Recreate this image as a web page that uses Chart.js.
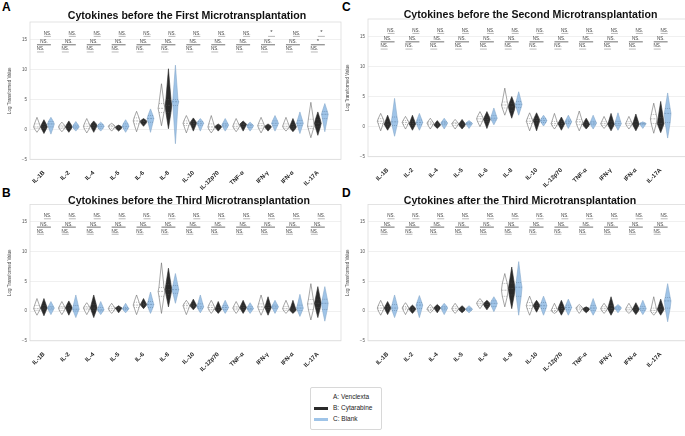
<!DOCTYPE html>
<html>
<head>
<meta charset="utf-8">
<script src="https://cdn.jsdelivr.net/npm/chart.js@4.4.1/dist/chart.umd.min.js"></script>
<style>
  html,body{margin:0;padding:0;background:#fff;overflow:hidden;width:685px;height:436px;position:relative;font-family:"Liberation Sans",Arial,sans-serif;}
  canvas{position:absolute;}
  .tag{position:absolute;font-weight:bold;font-size:12px;line-height:12px;color:#000;}
  #legend{position:absolute;left:310px;top:387px;width:72px;height:43px;border:1px solid #d8d8d8;border-radius:2px;box-sizing:border-box;padding:3px 0 0 3px;font-size:6.5px;line-height:11px;color:#222;}
  .sw{display:inline-block;width:14px;height:2.5px;vertical-align:middle;margin-right:5px;}
</style>
</head>
<body>
<div class="tag" style="left:2px;top:1px">A</div>
<div class="tag" style="left:342px;top:1px">C</div>
<div class="tag" style="left:2px;top:187px">B</div>
<div class="tag" style="left:342px;top:187px">D</div>

<canvas id="chartA" width="374" height="190" style="left:0px;top:0px"></canvas>
<canvas id="chartB" width="378" height="190" style="left:0px;top:185px"></canvas>
<canvas id="chartC" width="385" height="190" style="left:338px;top:0px"></canvas>
<canvas id="chartD" width="364" height="190" style="left:338px;top:185px"></canvas>

<div id="legend">
  <div><span class="sw" style="background:#fff"></span>A: Venclexta</div>
  <div><span class="sw" style="background:#2a2a2a"></span>B: Cytarabine</div>
  <div><span class="sw" style="background:#9fc4e8"></span>C: Blank</div>
</div>

<script>
const cats = ['IL-1B','IL-2','IL-4','IL-5','IL-6','IL-8','IL-10','IL-12p70','TNF-α','IFN-γ','IFN-α','IL-17A'];
const groups = ['A: Venclexta','B: Cytarabine','C: Blank'];
const yTicks = [-5, 0, 5, 10, 15];
const bracketLevels = [15.5, 14.1, 12.9];

// each violin: [min, q1, median, q3, max]
// A - before first microtransplantation
const aVen = [[-0.5,0.1,0.4,0.9,2.0],[-0.4,0.1,0.4,0.7,1.2],[-0.6,0.1,0.5,0.9,1.8],[-0.3,0.2,0.5,0.7,1.0],[-0.4,0.9,1.4,1.9,3.0],[0.6,2.8,3.5,4.3,7.6],
  [-0.6,0.6,1.0,1.4,2.3],[-0.6,0.0,0.4,0.9,2.3],[-0.4,0.2,0.5,0.9,1.8],[-0.6,0.2,0.6,1.0,2.0],[-0.3,0.2,0.5,0.9,2.0],[-1.4,0.1,0.5,1.7,4.5]];
const aCyt = [[-0.7,0.1,0.4,0.8,1.6],[-0.5,0.1,0.4,0.7,1.4],[-0.5,0.3,0.6,0.9,1.4],[-0.3,0.1,0.3,0.5,0.7],[0.5,1.0,1.3,1.5,1.8],[0.1,2.8,4.0,5.0,10.1],
  [-0.3,0.7,1.0,1.3,1.9],[-0.3,0.2,0.4,0.6,0.9],[-0.3,0.5,0.8,1.0,1.4],[-0.3,0.2,0.4,0.6,0.9],[-0.4,0.1,0.4,0.8,1.8],[-1.0,0.4,1.0,1.6,2.9]];
const aBlank = [[-0.8,0.4,0.9,1.3,2.0],[-0.3,0.2,0.4,0.7,1.3],[-0.3,0.2,0.5,0.8,1.2],[-0.5,0.2,0.5,0.9,1.6],[-0.5,1.2,1.8,2.3,3.4],[-2.4,4.0,4.6,5.0,10.7],
  [-0.3,0.7,1.0,1.3,1.8],[-0.3,0.4,0.7,1.0,1.8],[-0.3,0.3,0.6,0.8,1.2],[-0.3,0.6,1.0,1.4,2.3],[-0.7,0.6,1.0,1.5,2.9],[-0.4,1.8,2.5,3.0,4.3]];
const aSig = [['NS.','NS.','NS.'],['NS.','NS.','NS.'],['NS.','NS.','NS.'],['NS.','NS.','NS.'],['NS.','NS.','NS.'],['NS.','NS.','NS.'],
  ['NS.','NS.','NS.'],['NS.','NS.','NS.'],['NS.','NS.','NS.'],['*','NS.','NS.'],['NS.','NS.','NS.'],['*','*','NS.']];

// B - before third microtransplantation
const bVen = [[-0.7,0.1,0.4,0.9,2.1],[-0.6,0.1,0.5,0.8,1.6],[-0.6,0.2,0.5,0.8,1.4],[-0.4,0.1,0.4,0.7,1.3],[-0.6,0.6,1.0,1.5,2.7],[-0.4,2.5,3.3,4.0,8.1],
  [-0.6,0.5,0.9,1.2,1.8],[-0.4,0.2,0.6,1.0,1.8],[-0.4,0.2,0.5,0.8,1.6],[-0.7,0.3,0.7,1.2,2.7],[-0.4,0.1,0.4,0.8,1.8],[-1.5,0.3,1.2,1.9,4.6]];
const bCyt = [[-0.8,0.2,0.5,0.9,2.1],[-0.7,0.2,0.5,0.9,1.7],[-1.1,0.1,0.5,1.1,2.7],[-0.3,0.3,0.5,0.6,0.9],[0.4,0.9,1.1,1.3,2.1],[0.7,2.8,3.6,4.5,7.2],
  [0.2,0.7,0.9,1.2,2.0],[-0.4,0.1,0.3,0.6,1.6],[-0.4,0.3,0.6,0.9,1.8],[-0.7,0.3,0.6,1.0,2.4],[-0.4,0.0,0.2,0.5,1.8],[-1.1,0.6,1.3,2.0,4.1]];
const bBlank = [[-0.6,0.2,0.5,0.8,1.6],[-1.1,0.0,0.3,0.9,2.7],[-0.6,0.0,0.2,0.6,1.6],[-0.3,0.2,0.4,0.6,1.3],[-0.4,0.6,1.1,1.6,3.2],[1.3,3.0,3.6,4.3,6.3],
  [-0.3,0.4,0.7,1.2,2.7],[-0.4,0.3,0.6,0.9,1.8],[-0.4,0.2,0.4,0.7,1.4],[-0.4,0.4,0.7,1.0,1.8],[-0.9,0.1,0.5,1.0,2.8],[-1.7,0.3,1.3,2.0,4.1]];

// C - before second microtransplantation
const cVen = [[-0.7,0.5,0.9,1.3,2.2],[-0.4,0.4,0.7,1.0,1.7],[-0.4,0.3,0.6,0.8,1.4],[-0.4,0.2,0.5,0.7,1.2],[0.0,0.9,1.3,1.7,2.5],[1.9,3.1,3.6,4.1,6.4],
  [-0.7,0.5,0.9,1.3,2.3],[-0.4,0.2,0.5,0.9,2.2],[-0.7,0.3,0.8,1.2,2.6],[-0.3,0.2,0.5,0.8,1.7],[-0.4,0.2,0.5,0.8,1.7],[-1.1,0.5,1.3,2.0,3.9]];
const cCyt = [[-0.6,0.1,0.4,0.8,1.9],[-0.6,0.2,0.5,0.8,1.9],[-0.3,0.1,0.3,0.5,1.0],[-0.4,0.1,0.4,0.6,1.2],[-0.3,0.8,1.2,1.6,2.5],[1.4,2.7,3.3,3.9,5.0],
  [-0.7,0.6,1.0,1.4,2.3],[-0.6,0.2,0.5,0.8,1.6],[-0.4,0.1,0.4,0.7,1.4],[-0.7,0.1,0.4,0.8,2.2],[-0.7,0.1,0.4,0.8,2.1],[-1.0,0.1,0.5,1.5,4.2]];
const cBlank = [[-1.6,0.2,0.8,1.6,4.7],[-0.6,0.3,0.7,1.1,2.2],[-0.4,0.3,0.6,0.8,1.4],[-0.3,0.3,0.5,0.7,1.0],[0.3,1.1,1.4,1.8,3.1],[1.9,3.2,3.7,4.2,5.8],
  [0.1,0.7,1.0,1.3,1.9],[-0.3,0.5,0.8,1.1,1.9],[-0.4,0.3,0.6,0.9,1.9],[-0.6,0.2,0.5,0.9,2.3],[-0.3,0.3,0.5,0.6,0.8],[-1.9,0.7,2.2,3.0,5.6]];

// D - after third microtransplantation
const dVen = [[-0.7,0.1,0.5,0.9,1.8],[-0.6,0.2,0.5,0.8,1.4],[-0.3,0.1,0.3,0.6,1.1],[-0.4,0.1,0.4,0.7,1.3],[0.4,1.0,1.3,1.6,2.1],[0.7,2.5,3.5,4.6,6.3],
  [-0.7,0.4,0.9,1.4,2.5],[-0.4,-0.1,0.1,0.4,1.3],[-0.4,0.2,0.5,0.7,1.1],[-0.4,0.1,0.4,0.7,1.3],[-0.4,0.0,0.3,0.6,1.3],[-0.7,-0.2,0.1,0.5,2.4]];
const dCyt = [[-0.6,0.2,0.5,0.8,1.6],[-0.4,0.1,0.3,0.6,1.0],[-0.3,0.3,0.5,0.7,1.1],[-0.3,0.1,0.3,0.5,0.9],[0.2,0.8,1.1,1.4,1.8],[0.4,2.7,3.8,4.7,7.4],
  [-0.2,0.6,0.9,1.2,1.8],[-0.7,0.1,0.4,0.8,1.8],[-0.3,0.1,0.3,0.5,0.7],[-0.7,0.1,0.4,0.9,2.4],[-0.6,0.0,0.3,0.6,1.4],[-0.7,0.0,0.3,0.7,2.0]];
const dBlank = [[-1.1,0.1,0.5,1.1,2.7],[-1.1,0.4,1.0,1.4,2.6],[-0.6,0.2,0.5,0.8,1.3],[-0.3,0.1,0.3,0.5,0.9],[-0.1,0.8,1.3,1.7,2.4],[-0.7,2.5,4.0,4.8,8.3],
  [-0.7,0.4,0.9,1.4,2.5],[-0.7,0.2,0.6,1.0,2.0],[-0.7,0.1,0.5,0.9,2.1],[-0.3,0.3,0.5,0.7,1.1],[-0.6,0.1,0.4,0.8,1.8],[-1.8,0.5,1.7,2.3,4.6]];

const nsSig = cats.map(() => ['NS.','NS.','NS.']);

// styling
const groupColors = [
  {fill:'#ffffff', line:'#6b6b6b', inner:'#777777'},
  {fill:'#2a2a2a', line:'#2a2a2a', inner:'#505050'},
  {fill:'#9fc4e8', line:'#88a9cb', inner:'#5f7f9f'}
];
const offsets = [-0.28, 0, 0.28];
const halfW = 0.135;
const spans = [[0, 0.28], [-0.28, 0.28], [-0.28, 0]];

//frame around the plot area
const framePlugin = {
  id: 'frame',
  beforeDatasetsDraw(chart){
    const {ctx, chartArea: a} = chart;
    ctx.save();
    ctx.strokeStyle = '#dcdcdc';
    ctx.lineWidth = 0.8;
    ctx.strokeRect(a.left, a.top, a.right - a.left, a.bottom - a.top);
    ctx.restore();
  }
};

//violin shapes with quartile lines
const violinPlugin = {
  id: 'violins',
  afterDatasetsDraw(chart){
    const {ctx, scales: {x, y}} = chart;
    const w = x.getPixelForValue(halfW) - x.getPixelForValue(0);
    chart.data.datasets.forEach(ds => {
      const c = ds.colors;
      ds.violins.forEach((v, i) => {
        const cx = x.getPixelForValue(i + ds.offset);
        const [lo, q1, md, q3, hi] = v.map(val => y.getPixelForValue(val));
        ctx.save();
        ctx.beginPath();
        ctx.moveTo(cx, hi);
        ctx.lineTo(cx + w*0.75, q3);
        ctx.lineTo(cx + w, md);
        ctx.lineTo(cx + w*0.75, q1);
        ctx.lineTo(cx, lo);
        ctx.lineTo(cx - w*0.75, q1);
        ctx.lineTo(cx - w, md);
        ctx.lineTo(cx - w*0.75, q3);
        ctx.closePath();
        ctx.fillStyle = c.fill;
        ctx.fill();
        ctx.strokeStyle = c.line;
        ctx.lineWidth = 0.6;
        ctx.stroke();
        ctx.strokeStyle = c.inner;
        ctx.lineWidth = 0.5;
        [[q1, 0.75, [1,1]], [md, 1, [2,1]], [q3, 0.75, [1,1]]].forEach(([py, f, dash]) => {
          ctx.setLineDash(dash);
          ctx.beginPath();
          ctx.moveTo(cx - w*f, py);
          ctx.lineTo(cx + w*f, py);
          ctx.stroke();
        });
        ctx.restore();
      });
    });
  }
};

//NS. brackets above each cytokine
const sigPlugin = {
  id: 'sig',
  afterDatasetsDraw(chart, args, opts){
    const {ctx, scales: {x, y}} = chart;
    ctx.save();
    opts.rows.forEach((row, i) => {
      row.forEach((txt, r) => {
        const x1 = x.getPixelForValue(i + spans[r][0]);
        const x2 = x.getPixelForValue(i + spans[r][1]);
        const py = y.getPixelForValue(bracketLevels[r]);
        ctx.strokeStyle = r === 1 ? '#333' : '#999';
        ctx.lineWidth = 0.7;
        ctx.beginPath();
        ctx.moveTo(x1, py);
        ctx.lineTo(x2, py);
        ctx.stroke();
        ctx.fillStyle = '#444';
        ctx.textAlign = 'center';
        ctx.textBaseline = 'bottom';
        ctx.font = (txt === '*' ? '6px' : '4.5px') + ' "Liberation Sans", Arial, sans-serif';
        ctx.fillText(txt, (x1 + x2)/2, py - 0.6);
      });
    });
    ctx.restore();
  }
};

function makePanel(id, title, series, sig, opt){
  const datasets = series.map((vals, g) => ({
    label: groups[g],
    data: vals.map((v, i) => ({x: i + offsets[g], y: v[2]})),
    violins: vals,
    offset: offsets[g],
    colors: groupColors[g],
    pointRadius: 0,
    showLine: false
  }));
  return new Chart(document.getElementById(id), {
    type: 'scatter',
    data: {datasets: datasets},
    options: {
      responsive: false,
      animation: false,
      devicePixelRatio: window.devicePixelRatio,
      layout: {padding: 0},
      plugins: {
        legend: {display: false},
        tooltip: {enabled: false},
        title: {
          display: true, text: title, color: '#111',
          font: {family: '"Liberation Sans", Arial, sans-serif', size: 10.6, weight: 'bold', lineHeight: 1},
          padding: opt.titlePad
        },
        sig: {rows: sig}
      },
      scales: {
        x: {
          type: 'linear', min: opt.xMin, max: opt.xMax,
          grid: {display: false}, border: {display: false},
          afterBuildTicks: s => { s.ticks = cats.map((c, i) => ({value: i})); },
          afterFit: s => { s.height = opt.xH; },
          ticks: {
            autoSkip: false, minRotation: 45, maxRotation: 45, padding: 2, color: '#222',
            font: {family: '"Liberation Sans", Arial, sans-serif', size: 6, weight: 'bold'},
            callback: v => cats[v]
          }
        },
        y: {
          min: -5, max: 17.9,
          afterBuildTicks: s => { s.ticks = yTicks.map(v => ({value: v})); },
          afterFit: s => { s.width = opt.yW; },
          grid: {color: '#ececec', lineWidth: 0.8, drawTicks: false},
          border: {display: false},
          ticks: {padding: 3, color: '#555', font: {family: '"Liberation Sans", Arial, sans-serif', size: 4.5},
            callback: v => String(v).replace('-', '−')},
          title: {display: true, text: 'Log Transformed Value', color: '#444',
            font: {family: '"Liberation Sans", Arial, sans-serif', size: 4.5}, padding: {top: 7.3, bottom: 0}}
        },
        y2: {
          position: 'right', min: 0, max: 1,
          afterFit: s => { s.width = opt.y2W; },
          grid: {display: false}, border: {display: false}, ticks: {display: false}
        }
      }
    },
    plugins: [framePlugin, violinPlugin, sigPlugin]
  });
}

makePanel('chartA', 'Cytokines before the First Microtransplantation', [aVen, aCyt, aBlank], aSig,
  {xMin: -0.56, xMax: 11.93, yW: 30, y2W: 33, xH: 30.7, titlePad: {top: 11, bottom: 0.4}});
makePanel('chartB', 'Cytokines before the Third Microtransplantation', [bVen, bCyt, bBlank], nsSig,
  {xMin: -0.56, xMax: 11.93, yW: 30, y2W: 37, xH: 34.2, titlePad: {top: 10.4, bottom: -1.5}});
makePanel('chartC', 'Cytokines before the Second Microtransplantation', [cVen, cCyt, cBlank], nsSig,
  {xMin: -0.79, xMax: 12.1, yW: 30, y2W: 35, xH: 33.3, titlePad: {top: 10, bottom: -1.6}});
makePanel('chartD', 'Cytokines after the Third Microtransplantation', [dVen, dCyt, dBlank], nsSig,
  {xMin: -0.79, xMax: 12.1, yW: 30, y2W: 14, xH: 34.2, titlePad: {top: 10.4, bottom: -1.5}});
</script>
</body>
</html>
